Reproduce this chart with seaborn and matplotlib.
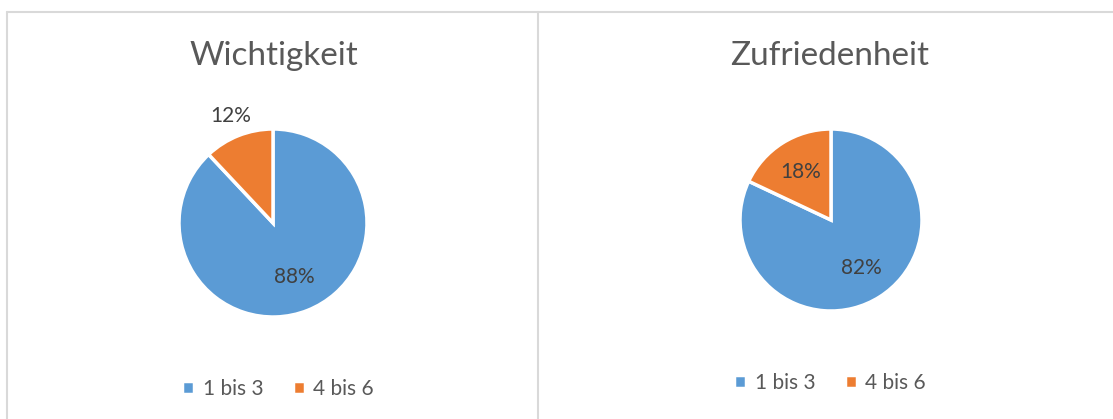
import seaborn as sns
import matplotlib
matplotlib.use("Agg")
import matplotlib.pyplot as plt
from matplotlib.lines import Line2D

# data
titles = ["Wichtigkeit", "Zufriedenheit"]
categories = ["1 bis 3", "4 bis 6"]
wichtigkeit = [88, 12]
zufriedenheit = [82, 18]

colors = ["#5B9BD5", "#ED7D31"]

sns.set_theme(style="white")
plt.rcParams['font.family'] = ['Lato', 'DejaVu Sans']

W, H = 1113, 419
fig = plt.figure(figsize=(W / 100, H / 100), dpi=100)


def px_axes(cx, cy, r):
    # square axes centred on a pixel position (y from top)
    return fig.add_axes([(cx - r) / W, (H - cy - r) / H, 2 * r / W, 2 * r / H])


def draw_pie(ax, values, outside_small=False):
    wedges, texts, autotexts = ax.pie(
        values, colors=colors, startangle=90, counterclock=False,
        autopct="%d%%", pctdistance=0.62,
        wedgeprops=dict(edgecolor="white", linewidth=2.5),
        textprops=dict(color="#404040", fontsize=15))
    if outside_small:
        # Excel put the small label outside the slice
        x, y = autotexts[1].get_position()
        autotexts[1].set_position((x / 0.62 * 1.22, y / 0.62 * 1.22))
    ax.set_xlim(-1, 1)
    ax.set_ylim(-1, 1)
    ax.set_axis_off()
    return wedges


ax1 = px_axes(273, 223, 94)
w1 = draw_pie(ax1, wichtigkeit, outside_small=True)
ax2 = px_axes(831, 220, 91)
w2 = draw_pie(ax2, zufriedenheit)

fig.text(274 / W, 1 - 56 / H, titles[0], ha="center", va="center",
         fontsize=24, color="#595959")
fig.text(830 / W, 1 - 56 / H, titles[1], ha="center", va="center",
         fontsize=24, color="#595959")

for wedges, cx, cy in [(w1, 278, 389), (w2, 830, 383)]:
    fig.legend(wedges, categories, loc="center",
               bbox_to_anchor=(cx / W, 1 - cy / H), ncol=2, frameon=False,
               fontsize=15, labelcolor="#595959", handlelength=0.6,
               handleheight=0.6, handletextpad=0.4, columnspacing=1.4)

# chart borders
border = "#D9D9D9"
fig.add_artist(Line2D([7 / W, 1], [1 - 12 / H] * 2, color=border, lw=1.5))
fig.add_artist(Line2D([7 / W] * 2, [0, 1 - 12 / H], color=border, lw=1.5))
fig.add_artist(Line2D([538 / W] * 2, [0, 1 - 12 / H], color=border, lw=1.5))

fig.savefig("out.png", dpi=100)
